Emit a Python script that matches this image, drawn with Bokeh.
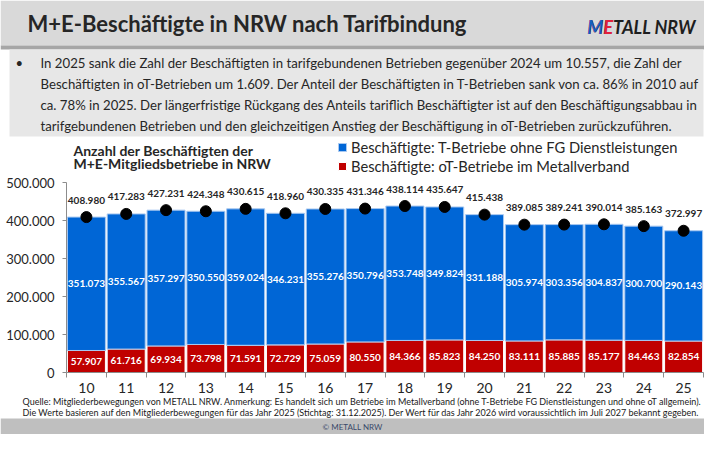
from bokeh.plotting import figure
from bokeh.models import (ColumnDataSource, Range1d, FixedTicker, Legend, LegendItem, LinearAxis)
from bokeh.embed import file_html
from bokeh.resources import INLINE
from bokeh.core.properties import value

# ---------------- data ----------------
years = [10, 11, 12, 13, 14, 15, 16, 17, 18, 19, 20, 21, 22, 23, 24, 25]
tarif = [351073, 355567, 357297, 350550, 359024, 346231, 355276, 350796,
         353748, 349824, 331188, 305974, 303356, 304837, 300700, 290143]
ot = [57907, 61716, 69934, 73798, 71591, 72729, 75059, 80550,
      84366, 85823, 84250, 83111, 85885, 85177, 84463, 82854]
total = [408980, 417283, 427231, 424348, 430615, 418960, 430335, 431346,
         438114, 435647, 415438, 389085, 389241, 390014, 385163, 372997]
y_ticks = [0, 100000, 200000, 300000, 400000, 500000]

title_text = "M+E-Beschäftigte in NRW nach Tarifbindung"
bullet_lines = [
    "In 2025 sank die Zahl der Beschäftigten in tarifgebundenen Betrieben gegenüber 2024 um 10.557, die Zahl der",
    "Beschäftigten in oT-Betrieben um 1.609. Der Anteil der Beschäftigten in T-Betrieben sank von ca. 86% in 2010 auf",
    "ca. 78% in 2025. Der längerfristige Rückgang des Anteils tariflich Beschäftigter ist auf den Beschäftigungsabbau in",
    "tarifgebundenen Betrieben und den gleichzeitigen Anstieg der Beschäftigung in oT-Betrieben zurückzuführen.",
]
chart_title = ["Anzahl der Beschäftigten der", "M+E-Mitgliedsbetriebe in NRW"]
legend_labels = ["Beschäftigte: T-Betriebe ohne FG Dienstleistungen",
                 "Beschäftigte: oT-Betriebe im Metallverband"]
foot_lines = [
    "Quelle: Mitgliederbewegungen von METALL NRW. Anmerkung: Es handelt sich um Betriebe im Metallverband (ohne T-Betriebe FG Dienstleistungen und ohne  oT allgemein).",
    "Die Werte basieren auf den Mitgliederbewegungen für das Jahr 2025 (Stichtag: 31.12.2025). Der Wert für das Jahr 2026 wird voraussichtlich im Juli 2027 bekannt gegeben.",
]

FONT = "Lato"
BLUE = "#0066d6"
RED = "#c00000"
DARK = "#262626"
AXIS = "#8c8c8c"
W, H = 704, 434


def de(v):
    return f"{v:,}".replace(",", ".")


# one figure; its frame is the whole canvas, default ranges are pixel-like
p = figure(width=W, height=H, x_range=Range1d(0, W), y_range=Range1d(H, 0),
           x_axis_type=None, y_axis_type=None,
           output_backend="svg", toolbar_location=None, min_border=0,
           outline_line_color=None, background_fill_color="white", border_fill_color="white")
p.grid.visible = False

# chart ranges (layout of the plotting area)
X0_PX, X1_PX = 66, 703          # left/right edge of bar area
Y0_PX, Y500_PX = 372, 182       # pixel rows of 0 and 500.000
px_per_val = (Y0_PX - Y500_PX) / 500000.0
px_per_cat = (X1_PX - X0_PX) / 16.0
yr_start = 9.5 - X0_PX / px_per_cat
yr_end = 25.5 + (W - X1_PX) / px_per_cat
val_start = -(H - Y0_PX) / px_per_val
p.extra_x_ranges = {"yr": Range1d(yr_start, yr_end)}
p.extra_y_ranges = {"val": Range1d(val_start, val_start + H / px_per_val)}

# ---------------- header ----------------
p.quad(left=[0], right=[W], top=[0], bottom=[45], fill_color="#d9d9d9", line_color=None)
p.quad(left=[0], right=[W], top=[45], bottom=[49], fill_color="#a6a6a6", line_color=None)
p.quad(left=[9], right=[703], top=[49], bottom=[136], fill_color="#e7e7e7", line_color=None)
p.text(x=[27], y=[23], text=[title_text], text_font=value(FONT), text_font_style="bold",
       text_font_size="22px", text_color=DARK, text_baseline="middle", text_align="left")
lx, ly = 587, 26
for t, c in (("METALL NRW", "#1e1e1e"), ("ME", "#e2203c"), ("M", "#1060c0")):
    p.text(x=[lx], y=[ly], text=[t], text_font=value(FONT), text_font_style="bold italic",
           text_font_size="18px", text_color=c, text_baseline="middle")
p.text(x=[15], y=[62], text=["•"], text_font=value(FONT), text_font_size="13px",
       text_color=DARK, text_baseline="middle")
p.text(x=[40] * 4, y=[62, 83, 104, 125], text=bullet_lines, text_font=value(FONT),
       text_font_size="13.2px", text_color=DARK, text_baseline="middle", text_align="left")

# ---------------- chart ----------------
src = ColumnDataSource(dict(
    x=years, tarif=tarif, ot=ot, total=total,
    tarif_mid=[o + t / 2 for o, t in zip(ot, tarif)],
    ot_mid=[o / 2 for o in ot],
    tarif_lbl=[de(v) for v in tarif], ot_lbl=[de(v) for v in ot],
    tot_lbl=[de(v) for v in total],
))
kw = dict(x_range_name="yr", y_range_name="val", source=src)
r_ot = p.vbar(x="x", bottom=0, top="ot", width=0.955, fill_color=RED, line_color="white",
              line_width=1.0, **kw)
r_t = p.vbar(x="x", bottom="ot", top="total", width=0.955, fill_color=BLUE, line_color="#a8c8f0",
             line_width=1.0, **kw)
p.scatter(x="x", y="total", size=11, fill_color="black", line_color="black", **kw)

p.text(x="x", y="total", text="tot_lbl", text_align="center", text_baseline="middle",
       y_offset=-17, text_font=value(FONT), text_font_size="10px", text_font_style="bold",
       text_color=DARK, **kw)
p.text(x="x", y="tarif_mid", text="tarif_lbl", text_align="center",
       text_baseline="middle", text_font=value(FONT), text_font_size="10px",
       text_font_style="bold", text_color="white", **kw)
p.text(x="x", y="ot_mid", text="ot_lbl", text_align="center",
       text_baseline="middle", text_font=value(FONT), text_font_size="10px",
       text_font_style="bold", text_color="white", **kw)

# axes drawn at fixed locations inside the canvas
yax = LinearAxis(x_range_name="yr", y_range_name="val", fixed_location=9.5,
                 ticker=FixedTicker(ticks=y_ticks), bounds=(0, 500000))
yax.major_label_overrides = {v: de(v) for v in y_ticks}
yax.axis_line_color = AXIS
yax.major_tick_line_color = AXIS
yax.major_tick_out = 4
yax.major_tick_in = 0
yax.minor_tick_line_color = None
yax.major_label_text_font = FONT
yax.major_label_text_font_size = "13px"
yax.major_label_text_color = DARK
yax.major_label_standoff = 8
p.add_layout(yax, "left")

xax = LinearAxis(x_range_name="yr", y_range_name="val", fixed_location=0,
                 ticker=FixedTicker(ticks=years, minor_ticks=[y - 0.5 for y in years] + [25.5]),
                 bounds=(9.5, 25.5))
xax.major_label_overrides = {y: str(y) for y in years}
xax.axis_line_color = AXIS
xax.major_tick_line_color = None
xax.major_tick_out = 0
xax.major_tick_in = 0
xax.minor_tick_line_color = AXIS
xax.minor_tick_out = 5
xax.minor_tick_in = 0
xax.major_label_text_font = FONT
xax.major_label_text_font_size = "14px"
xax.major_label_text_color = DARK
xax.major_label_standoff = 5
p.add_layout(xax, "below")

# chart title
p.text(x=[73, 73], y=[150, 163], text=chart_title, text_font=value(FONT), text_font_style="bold",
       text_font_size="14px", text_color=DARK, text_baseline="middle", text_align="left")

legend = Legend(items=[LegendItem(label=legend_labels[0], renderers=[r_t]),
                       LegendItem(label=legend_labels[1], renderers=[r_ot])],
                location=(337, H - 140 - 35), orientation="vertical",
                background_fill_alpha=0, border_line_color=None, padding=0, margin=0,
                spacing=1, glyph_width=10, glyph_height=10, label_height=15,
                label_standoff=4, label_text_font=FONT, label_text_font_size="14.7px",
                label_text_color=DARK)
p.add_layout(legend)

# ---------------- footer ----------------
p.text(x=[22, 22], y=[401, 412], text=foot_lines, text_font=value(FONT), text_font_size="9px",
       text_color="#1a1a1a", text_baseline="middle", text_align="left")
p.quad(left=[0], right=[W], top=[418], bottom=[H], fill_color="#bfbfbf", line_color=None)
p.text(x=[W / 2], y=[426], text=["© METALL NRW"], text_font=value(FONT), text_font_size="8px",
       text_color="#3a4a6a", text_baseline="middle", text_align="center")

open("out.html", "w").write(file_html(p, INLINE))
